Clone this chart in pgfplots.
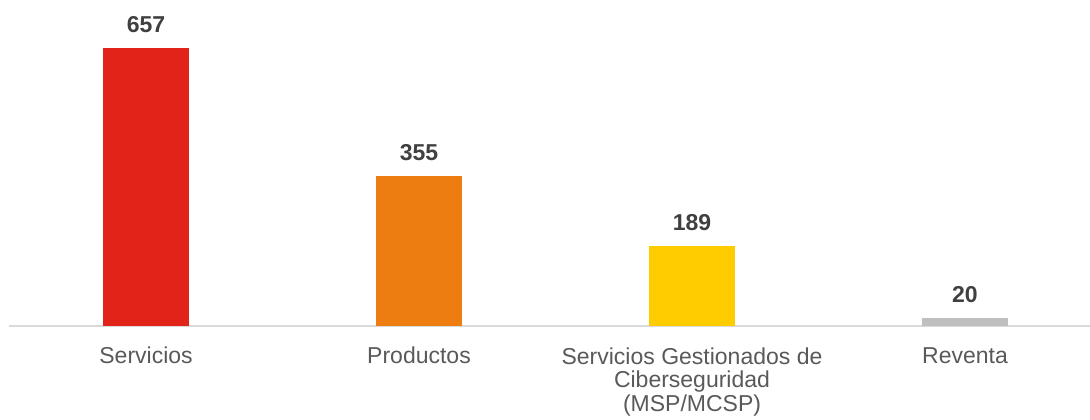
\documentclass[border=0pt]{standalone}
\usepackage{pgfplots}
\pgfplotsset{compat=1.18}
\usepackage{fontspec}
\setmainfont{Liberation Sans}
\definecolor{cRed}{HTML}{E2231A}
\definecolor{cOrange}{HTML}{EE7D11}
\definecolor{cYellow}{HTML}{FFCC00}
\definecolor{cGray}{HTML}{BFBFBF}
\definecolor{cAxis}{HTML}{D9D9D9}
\definecolor{cLabel}{HTML}{595959}
\definecolor{cValue}{HTML}{404040}
\begin{document}
\begin{tikzpicture}[x=1pt,y=1pt]
\useasboundingbox (0,0) rectangle (1090,420);
\begin{axis}[
  at={(9pt,94pt)}, anchor=south west,
  scale only axis,
  width=1081pt, height=326pt,
  xmin=-0.502, xmax=3.458,
  ymin=0, ymax=770.5,
  axis x line*=bottom,
  axis y line=none,
  axis line style={cAxis, line width=1.5pt, -},
  xtick={0,1,2,3},
  xticklabels={Servicios,Productos,{Servicios Gestionados de\\Ciberseguridad\\(MSP/MCSP)},Reventa},
  major tick length=0pt,
  xticklabel style={font=\fontsize{23}{24}\selectfont, text=cLabel, align=center, anchor=north, inner sep=0pt, yshift=-21pt, text depth=0pt},
  typeset ticklabels with strut,
  /pgf/number format/assume math mode=true,
  ybar, bar width=86pt, bar shift=0pt,
  nodes near coords,
  nodes near coords style={font=\bfseries\fontsize{23}{24}\selectfont, text=cValue, anchor=south, inner sep=0pt, yshift=15pt},
  clip=false,
]
\addplot[fill=cRed, draw=none] coordinates {(0,657)};
\addplot[fill=cOrange, draw=none] coordinates {(1,355)};
\addplot[fill=cYellow, draw=none] coordinates {(2,189)};
\addplot[fill=cGray, draw=none] coordinates {(3,20)};
\end{axis}
\end{tikzpicture}
\end{document}
